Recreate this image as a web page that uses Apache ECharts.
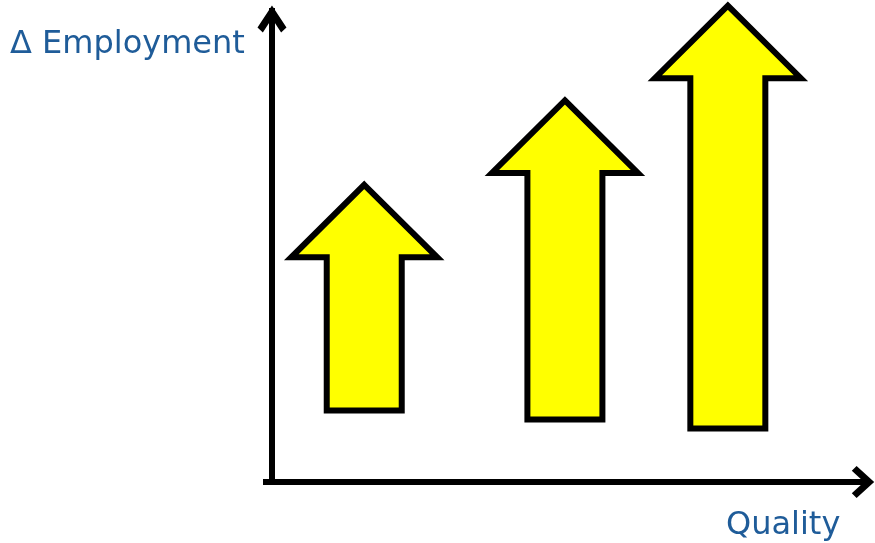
<!DOCTYPE html>
<html>
<head>
<meta charset="utf-8">
<script src="https://cdn.jsdelivr.net/npm/echarts@6/dist/echarts.min.js"></script>
<style>
  html, body { margin: 0; padding: 0; background: #ffffff; }
  #chart { width: 875px; height: 543px; }
</style>
</head>
<body>
<div id="chart"></div>
<script>
// Quality level of each step and the employment change it starts from / reaches
const quality = [15.4, 48.9, 76.1];
const employmentFrom = [15.1, 13.2, 11.3];
const employmentTo = [62.7, 80.5, 100.5];
const axisTitles = ['Δ Employment', 'Quality'];

const arrowData = quality.map((q, i) => [q, employmentFrom[i], employmentTo[i]]);

const chart = echarts.init(document.getElementById('chart'), null, { renderer: 'canvas' });

// open chevron heads for the axis lines (drawn as filled outlines)
const chevronUp = 'path://M13.5,0 L27,20.5 L22,25 L13.5,12 L5,25 L0,20.5 Z';
const chevronWide = 'path://M15,0 L30,16.5 L25.5,21 L15,9.5 L4.5,21 L0,16.5 Z';

const TEXT_COLOR = '#1F5C99';
const FONT = '32px "DejaVu Sans", Verdana, sans-serif';

chart.setOption({
  animation: false,
  backgroundColor: '#ffffff',
  grid: { left: 263, right: 4, top: 8, bottom: 61 },
  xAxis: {
    type: 'value',
    min: -1.5,
    max: 100,
    axisLine: {
      show: true,
      onZero: true,
      symbol: ['none', chevronWide],
      symbolSize: [32, 23],
      symbolOffset: [0, -8],
      lineStyle: { color: '#000000', width: 6, cap: 'butt' }
    },
    axisTick: { show: false },
    axisLabel: { show: false },
    splitLine: { show: false }
  },
  yAxis: {
    type: 'value',
    min: 0,
    max: 100,
    axisLine: {
      show: true,
      onZero: true,
      symbol: ['none', chevronUp],
      symbolSize: [29, 27],
      symbolOffset: [0, -11],
      lineStyle: { color: '#000000', width: 6, cap: 'butt' }
    },
    axisTick: { show: false },
    axisLabel: { show: false },
    splitLine: { show: false }
  },
  graphic: [
    {
      type: 'text',
      x: 10,
      y: 44.5,
      style: { text: axisTitles[0], font: FONT, fill: TEXT_COLOR, verticalAlign: 'middle', align: 'left' }
    },
    {
      type: 'text',
      x: 726,
      y: 526,
      style: { text: axisTitles[1], font: FONT, fill: TEXT_COLOR, verticalAlign: 'middle', align: 'left' }
    }
  ],
  series: [
    {
      type: 'custom',
      clip: false,
      data: arrowData,
      encode: { x: 0, y: [1, 2] },
      renderItem: function (params, api) {
        const base = api.coord([api.value(0), api.value(1)]);
        const tip = api.coord([api.value(0), api.value(2)]);
        const cx = base[0];
        const headH = 72.5;     // arrow head height, px
        const headHalf = 73;    // arrow head half width, px
        const shaftHalf = 37.5; // shaft half width, px
        const neck = tip[1] + headH;
        return {
          type: 'polygon',
          shape: {
            points: [
              [cx, tip[1]],
              [cx + headHalf, neck],
              [cx + shaftHalf, neck],
              [cx + shaftHalf, base[1]],
              [cx - shaftHalf, base[1]],
              [cx - shaftHalf, neck],
              [cx - headHalf, neck]
            ]
          },
          style: {
            fill: '#FFFF00',
            stroke: '#000000',
            lineWidth: 6,
            lineJoin: 'miter',
            miterLimit: 10
          }
        };
      }
    }
  ]
});
</script>
</body>
</html>
